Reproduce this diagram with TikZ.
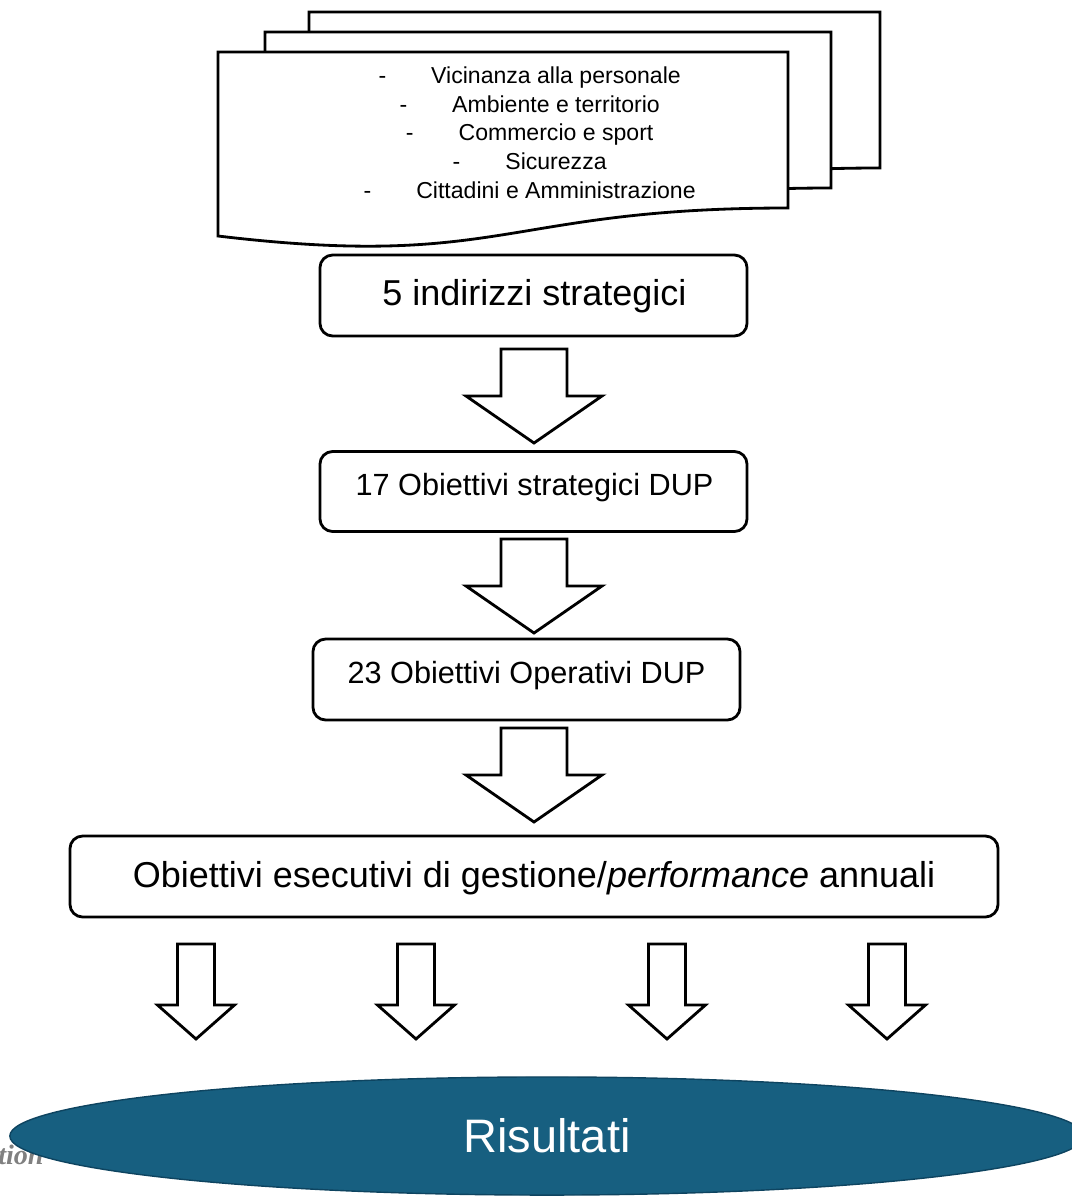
\documentclass[tikz,border=0pt]{standalone}
\usepackage{fontspec}
\setmainfont{Liberation Sans}
\newfontfamily\capfont{Liberation Serif}
\usetikzlibrary{shapes.geometric}

\definecolor{risblue}{RGB}{23,95,128}
\definecolor{risedge}{RGB}{14,68,96}
\definecolor{capgray}{RGB}{128,128,128}

\tikzset{
    sheet/.style={draw=black, fill=white, line width=2pt, line join=miter},
    stepbox/.style={draw=black, fill=white, line width=2pt, rounded corners=9pt, inner sep=0pt},
    arrowline/.style={draw=black, fill=white, line width=2pt, line join=miter},
    listtext/.style={anchor=base, font=\fontsize{16.4}{20}\selectfont},
    bigtext/.style={anchor=base, font=\fontsize{25.6}{30}\selectfont},
    midtext/.style={anchor=base, font=\fontsize{21.8}{26}\selectfont},
}

% one sheet of the document stack, top left corner at (#1,#2), width #3
\newcommand{\docsheet}[3]{%
    \draw[sheet] (#1,#2) -- (#1+#3,#2) -- (#1+#3,#2+156)
        .. controls (#1+#3/2,#2+156) and (#1+#3/2,#2+218) .. (#1,#2+184) -- cycle;
}
% block arrow: centre x, top, head base, tip, half shaft, half head
\newcommand{\flowarrow}[6]{%
    \draw[arrowline] (#1-#5,#2) -- (#1+#5,#2) -- (#1+#5,#3) -- (#1+#6,#3)
        -- (#1,#4) -- (#1-#6,#3) -- (#1-#5,#3) -- cycle;
}

\begin{document}
\begin{tikzpicture}[x=0.025cm, y=-0.025cm]
        \useasboundingbox (0,0) rectangle (1072,1197);
        \clip (0,0) rectangle (1072,1197);

        % Stack of documents (back to front)
        \foreach \sx/\sy/\sw in {309/12/571, 265/32/566, 218/52/570} {
            \docsheet{\sx}{\sy}{\sw}
        }

        % The five areas
        \foreach \txt/\yb [count=\i] in {Vicinanza alla personale/83,
                Ambiente e territorio/112, Commercio e sport/140,
                Sicurezza/169, Cittadini e Amministrazione/198} {
            \node[listtext] (area\i) at (556,\yb) {\makebox[0pt][r]{-\hspace{32pt}}\txt};
        }

        % Boxes of the cascade
        \node[stepbox, minimum width=303.7pt, minimum height=57.6pt] (indirizzi) at (533.5,295.5) {};
        \node[bigtext] (indirizzitxt) at (534.5,305) {5 indirizzi strategici};

        \node[stepbox, minimum width=303.7pt, minimum height=56.9pt] (strategici) at (533.5,491.5) {};
        \node[midtext] (strategicitxt) at (534.5,495) {17 Obiettivi strategici DUP};

        \node[stepbox, minimum width=303.7pt, minimum height=57.6pt] (operativi) at (526.5,679.5) {};
        \node[midtext] (operativitxt) at (526.5,683) {23 Obiettivi Operativi DUP};

        \node[stepbox, minimum width=660pt, minimum height=57.6pt] (esecutivi) at (534,876.5) {};
        \node[bigtext] (esecutivitxt) at (534,887) {Obiettivi esecutivi di gestione/\textit{performance} annuali};

        % Big arrows between the boxes
        \flowarrow{534}{349}{396}{443}{33}{68}
        \flowarrow{534}{539}{586}{633}{33}{68}
        \flowarrow{534}{728}{775}{822}{33}{68}

        % Small arrows towards the results
        \foreach \ax in {196, 416, 667, 887} {
            \flowarrow{\ax}{944}{1005}{1039}{18.5}{38.5}
        }

        % Caption text partly hidden by the ellipse
        \node[anchor=base west, inner sep=0pt, text=capgray,
              font=\capfont\bfseries\itshape\fontsize{20}{24}\selectfont] (caption) at (-2,1164) {tion};

        % Results
        \node[ellipse, draw=risedge, line width=1pt, fill=risblue, text=white,
              minimum width=764pt, minimum height=84pt, inner sep=0pt,
              font=\fontsize{33.4}{40}\selectfont] (risultati) at (547,1136) {Risultati};
\end{tikzpicture}
\end{document}
